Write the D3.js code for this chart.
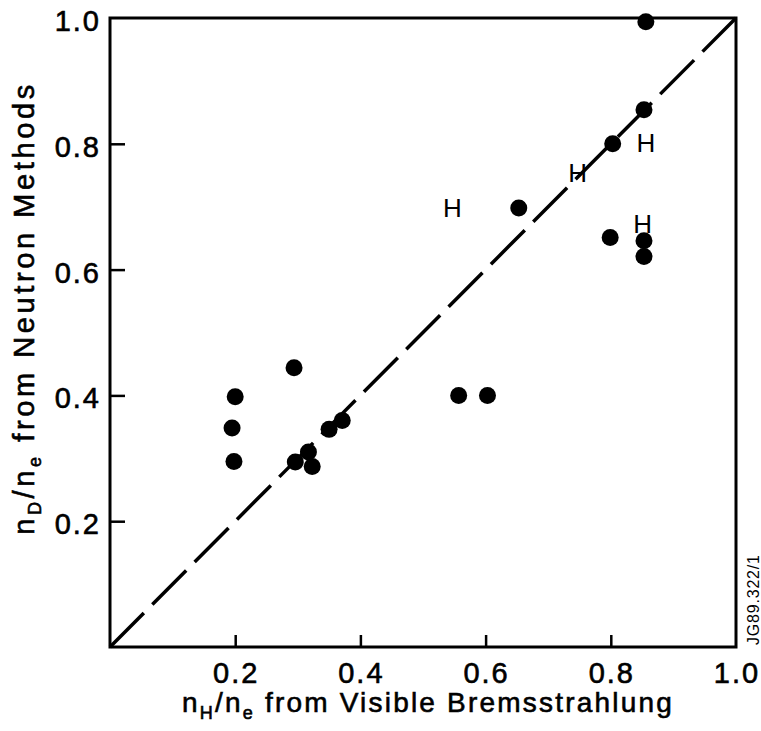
<!DOCTYPE html>
<html>
<head>
<meta charset="utf-8">
<script src="https://cdn.jsdelivr.net/npm/d3@7"></script>
<style>
  body { margin: 0; background: #fff; }
  svg { font-family: "Liberation Sans", Arial, sans-serif; }
  .lbl { stroke: #000; stroke-width: 0.6; fill: #000; }
</style>
</head>
<body>
<div id="graph"></div>
<script>
// measured points (filled circles)
const dotX = [0.856, 0.853, 0.803, 0.799, 0.853, 0.853, 0.653, 0.557, 0.603,
  0.294, 0.200, 0.195, 0.198, 0.296, 0.317, 0.323, 0.350, 0.371];
const dotY = [0.994, 0.854, 0.800, 0.651, 0.646, 0.621, 0.698, 0.400, 0.400,
  0.444, 0.398, 0.348, 0.295, 0.294, 0.310, 0.287, 0.346, 0.360];
// "H" markers
const hX = [0.856, 0.747, 0.851, 0.547];
const hY = [0.802, 0.754, 0.674, 0.698];
const tickValues = [0.2, 0.4, 0.6, 0.8, 1.0];
const tickLabels = ["0.2", "0.4", "0.6", "0.8", "1.0"];

const width = 761;
const height = 731;
const margin = { left: 110, right: 25, top: 18, bottom: 84 };

let svg = d3.select('#graph')
  .append('svg')
  .attr('width', width)
  .attr('height', height);

let xScale = d3.scaleLinear()
  .domain([0, 1])
  .range([margin.left, width - margin.right]);
let yScale = d3.scaleLinear()
  .domain([0, 1])
  .range([height - margin.bottom, margin.top]);

// frame
svg.append('rect')
  .attr('x', xScale(0))
  .attr('y', yScale(1))
  .attr('width', xScale(1) - xScale(0))
  .attr('height', yScale(0) - yScale(1))
  .attr('fill', 'none')
  .attr('stroke', '#000')
  .attr('stroke-width', 3);

// x axis, ticks inward
let xAxis = d3.axisTop(xScale)
  .tickValues(tickValues.slice(0, 4))
  .tickSize(12)
  .tickFormat('');
svg.append('g')
  .attr('transform', `translate(0, ${yScale(0)})`)
  .call(xAxis)
  .call(g => g.select('.domain').remove())
  .selectAll('line').attr('stroke-width', 2.5);

let yAxis = d3.axisRight(yScale)
  .tickValues(tickValues.slice(0, 4))
  .tickSize(15)
  .tickFormat('');
svg.append('g')
  .attr('transform', `translate(${xScale(0)}, 0)`)
  .call(yAxis)
  .call(g => g.select('.domain').remove())
  .selectAll('line').attr('stroke-width', 2.5);

// tick labels
svg.append('g').selectAll('text')
  .data(tickValues)
  .enter()
  .append('text')
  .attr('class', 'lbl')
  .attr('x', d => xScale(d) + 1)
  .attr('y', yScale(0) + 36)
  .attr('text-anchor', 'middle')
  .attr('font-size', 29)
  .attr('letter-spacing', 2)
  .text((d, i) => tickLabels[i]);

svg.append('g').selectAll('text')
  .data(tickValues)
  .enter()
  .append('text')
  .attr('class', 'lbl')
  .attr('x', xScale(0) - 9)
  .attr('y', d => yScale(d) + 13)
  .attr('text-anchor', 'end')
  .attr('font-size', 29)
  .attr('letter-spacing', 2)
  .text((d, i) => tickLabels[i]);

// diagonal dashed line
svg.append('line')
  .attr('x1', xScale(0))
  .attr('y1', yScale(0))
  .attr('x2', xScale(1))
  .attr('y2', yScale(1))
  .attr('stroke', '#000')
  .attr('stroke-width', 3.5)
  .attr('stroke-dasharray', '48 12');

// points
svg.append('g').selectAll('circle')
  .data(dotX)
  .enter()
  .append('circle')
  .attr('cx', d => xScale(d))
  .attr('cy', (d, i) => yScale(dotY[i]))
  .attr('r', 8.5)
  .attr('fill', '#000');

svg.append('g').selectAll('text')
  .data(hX)
  .enter()
  .append('text')
  .attr('x', d => xScale(d))
  .attr('y', (d, i) => yScale(hY[i]) + 9.5)
  .attr('text-anchor', 'middle')
  .attr('font-size', 26)
  .text('H');

// axis titles
let xTitle = svg.append('text')
  .attr('class', 'lbl')
  .attr('x', 428)
  .attr('y', 712)
  .attr('text-anchor', 'middle')
  .attr('font-size', 28)
  .attr('letter-spacing', 2.2);
xTitle.append('tspan').text('n');
xTitle.append('tspan').attr('font-size', 18).attr('dy', 7).text('H');
xTitle.append('tspan').attr('dy', -7).text('/n');
xTitle.append('tspan').attr('font-size', 18).attr('dy', 7).text('e');
xTitle.append('tspan').attr('dy', -7).text(' from Visible Bremsstrahlung');

let yTitle = svg.append('text')
  .attr('class', 'lbl')
  .attr('transform', 'translate(34, 308) rotate(-90)')
  .attr('text-anchor', 'middle')
  .attr('font-size', 29)
  .attr('letter-spacing', 3.6);
yTitle.append('tspan').text('n');
yTitle.append('tspan').attr('font-size', 18).attr('dy', 7).text('D');
yTitle.append('tspan').attr('dy', -7).text('/n');
yTitle.append('tspan').attr('font-size', 18).attr('dy', 7).text('e');
yTitle.append('tspan').attr('dy', -7).text(' from Neutron Methods');

// figure id
svg.append('text')
  .attr('transform', 'translate(759, 645) rotate(-90)')
  .attr('text-anchor', 'start')
  .attr('font-size', 16)
  .attr('letter-spacing', 0.8)
  .text('JG89.322/1');
</script>
</body>
</html>
